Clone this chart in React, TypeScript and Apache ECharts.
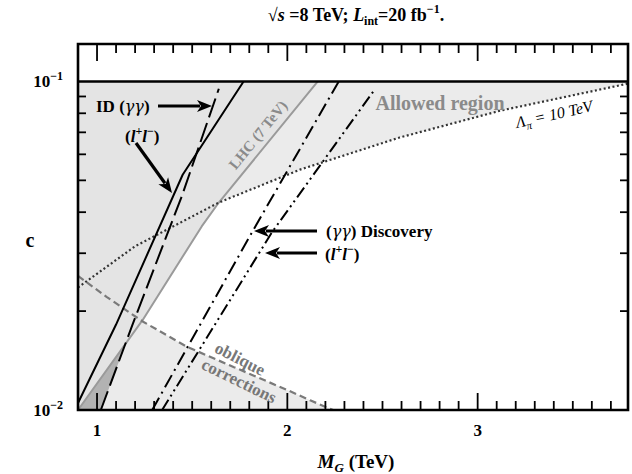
import React, { useEffect, useRef } from 'react';
import * as echarts from 'echarts';

const X_MIN = 0.9;
const X_MAX = 3.79;
const Y_MIN = 0.01;
const Y_MAX = 0.13;
const C_CUT = 0.1;

const xLabelTicks = [1, 2, 3];
const xMinorTicks = [1.1, 1.2, 1.3, 1.4, 1.5, 1.6, 1.7, 1.8, 1.9, 2.1, 2.2, 2.3, 2.4, 2.5, 2.6, 2.7, 2.8, 2.9, 3.1, 3.2, 3.3, 3.4, 3.5, 3.6, 3.7];
const yLabelTicks = [0.01, 0.1];
const yMinorTicks = [0.02, 0.03, 0.04, 0.05, 0.06, 0.07, 0.08, 0.09];

// curves: [M_G (TeV), c]
const lhc7 = [[0.90, 0.0100], [1.24, 0.0188], [1.55, 0.0362], [1.64, 0.0428], [2.16, 0.100]];
const idLL = [[0.90, 0.0105], [1.10, 0.0182], [1.45, 0.0520], [1.77, 0.100]];
const idGG = [[1.02, 0.0100], [1.185, 0.0181], [1.447, 0.0450], [1.64, 0.0950]];
const discGG = [[1.29, 0.0100], [1.815, 0.0348], [2.27, 0.100]];
const discLL = [[1.342, 0.0100], [1.92, 0.0348], [2.462, 0.0950]];
const lambda10 = [[0.90, 0.0236], [1.20, 0.0315], [1.64, 0.0428], [2.07, 0.0540], [2.59, 0.0675], [3.12, 0.0815], [3.79, 0.0985]];
const oblique = [[0.90, 0.0256], [1.05, 0.0221], [1.24, 0.0186], [1.47, 0.0156], [1.72, 0.0135], [2.00, 0.0115], [2.12, 0.0107], [2.24, 0.0100]];
const cutLine = [[X_MIN, C_CUT], [X_MAX, C_CUT]];
const darkWedge = [[0.90, 0.0100], [1.15, 0.0159], [1.02, 0.0100]];

const SERIF = '"Liberation Serif", "DejaVu Serif", serif';
const GREEK = '"DejaVu Serif", "Liberation Serif", serif';

const baseRegion = [[X_MIN, Y_MIN], [X_MAX, Y_MIN], [X_MAX, C_CUT], [X_MIN, C_CUT]];
const lhcRegion = [...lhc7, [X_MIN, C_CUT]];
const whiteRegion = [
  ...lhc7.filter((p) => p[0] >= 1.24 && p[0] <= 1.64),
  ...lambda10.filter((p) => p[0] > 1.64),
  [X_MAX, Y_MIN],
  ...oblique.filter((p) => p[0] >= 1.24).reverse(),
];

function polySeries(pts: number[][], fill: string, z: number) {
  return {
    type: 'custom',
    coordinateSystem: 'cartesian2d',
    silent: true,
    z,
    data: [[pts[0][0], pts[0][1]]],
    renderItem: (_p: any, api: any) => ({
      type: 'polygon',
      shape: { points: pts.map((p) => api.coord(p)) },
      style: { fill },
    }),
  };
}

function lineSeries(data: number[][], color: string, width: number, type: any, z = 3) {
  return {
    type: 'line',
    data,
    showSymbol: false,
    symbol: 'none',
    silent: true,
    z,
    lineStyle: { color, width, type, cap: 'butt' },
  };
}

function txt(x: number, y: number, text: string, size: number, opts: any = {}) {
  const color = opts.color || '#000';
  const weight = opts.weight || 'bold';
  const style = opts.style || 'normal';
  const small = Math.round(size * 0.68);
  return {
    type: 'text',
    x,
    y,
    rotation: opts.rotation || 0,
    z: 50,
    style: {
      text,
      fill: color,
      fontSize: size,
      fontFamily: SERIF,
      fontWeight: weight,
      fontStyle: style,
      align: opts.align || 'left',
      verticalAlign: 'middle',
      rich: {
        n: { fontSize: size, fontFamily: SERIF, fontWeight: weight, fontStyle: style, fill: color, lineHeight: size + 6 },
        i: { fontSize: size, fontFamily: SERIF, fontWeight: weight, fontStyle: 'italic', fill: color, lineHeight: size + 6 },
        g: { fontSize: size - 1, fontFamily: GREEK, fontWeight: 'normal', fontStyle: 'italic', fill: color, lineHeight: size + 6 },
        sup: { fontSize: small, fontFamily: SERIF, fontWeight: weight, fontStyle: style, fill: color, verticalAlign: 'top' },
        sub: { fontSize: small, fontFamily: SERIF, fontWeight: weight, fontStyle: style, fill: color, verticalAlign: 'bottom' },
        isub: { fontSize: small, fontFamily: SERIF, fontWeight: weight, fontStyle: 'italic', fill: color, verticalAlign: 'bottom' },
      },
    },
  };
}

function arrow(x1: number, y1: number, x2: number, y2: number) {
  const dx = x2 - x1;
  const dy = y2 - y1;
  const len = Math.sqrt(dx * dx + dy * dy);
  const ux = dx / len;
  const uy = dy / len;
  const hl = 15;
  const hw = 6;
  const bx = x2 - ux * hl;
  const by = y2 - uy * hl;
  return [
    { type: 'line', z: 50, shape: { x1, y1, x2: bx + ux * 3, y2: by + uy * 3 }, style: { stroke: '#000', lineWidth: 3.2 } },
    {
      type: 'polygon',
      z: 50,
      shape: { points: [[x2, y2], [bx - uy * hw, by + ux * hw], [bx + ux * 4, by + uy * 4], [bx + uy * hw, by - ux * hw]] },
      style: { fill: '#000' },
    },
  ];
}

export default function App() {
  const ref = useRef<HTMLDivElement>(null);
  useEffect(() => {
    if (!ref.current) return;
    const chart = echarts.init(ref.current, undefined, { renderer: 'svg' });
    const deg = Math.PI / 180;
    const option: any = {
      animation: false,
      backgroundColor: '#fff',
      grid: { left: 78, right: 4, top: 44, bottom: 64 },
      xAxis: {
        type: 'value',
        min: X_MIN,
        max: X_MAX,
        axisLine: { show: false },
        axisTick: { show: false },
        splitLine: { show: false },
        axisLabel: {
          customValues: xLabelTicks,
          formatter: (v: number) => String(Math.round(v)),
          fontFamily: SERIF,
          fontWeight: 'bold',
          fontSize: 17,
          color: '#000',
          margin: 12,
        },
      },
      yAxis: {
        type: 'log',
        logBase: 10,
        min: Y_MIN,
        max: Y_MAX,
        axisLine: { show: false },
        axisTick: { show: false },
        splitLine: { show: false },
        axisLabel: {
          customValues: yLabelTicks,
          formatter: (v: number) => '{n|10}{s|−' + Math.round(-Math.log10(v)) + '}',
          margin: 15,
          rich: {
            n: { fontFamily: SERIF, fontWeight: 'bold', fontSize: 17, color: '#000', lineHeight: 22 },
            s: { fontFamily: SERIF, fontWeight: 'bold', fontSize: 12, color: '#000', verticalAlign: 'top' },
          },
        },
      },
      series: [
        polySeries(baseRegion, '#ebebeb', 1),
        polySeries(lhcRegion, '#e4e4e4', 1),
        polySeries(whiteRegion, '#ffffff', 1),
        polySeries(darkWedge, '#b2b2b2', 1),
        lineSeries(lhc7, '#9a9a9a', 2),
        lineSeries(oblique, '#7a7a7a', 2.2, [7, 4]),
        lineSeries(lambda10, '#333', 2.2, [2, 2.5]),
        lineSeries(idLL, '#000', 2),
        lineSeries(idGG, '#000', 2, [20, 6]),
        lineSeries(discGG, '#000', 2, [14, 5, 2, 5]),
        lineSeries(discLL, '#000', 2, [12, 4, 2, 4, 2, 4]),
        lineSeries(cutLine, '#000', 2.4),
        {
          type: 'custom',
          coordinateSystem: 'cartesian2d',
          silent: true,
          z: 20,
          data: [[X_MIN, Y_MIN]],
          renderItem: (_p: any, api: any) => {
            const ch: any[] = [];
            const ln = (a: number[], b: number[]) =>
              ch.push({ type: 'line', shape: { x1: a[0], y1: a[1], x2: b[0], y2: b[1] }, style: { stroke: '#000', lineWidth: 1.8 } });
            xMinorTicks.forEach((x) => {
              const b = api.coord([x, Y_MIN]);
              const t = api.coord([x, Y_MAX]);
              ln(b, [b[0], b[1] - 9]);
              ln(t, [t[0], t[1] + 9]);
            });
            xLabelTicks.forEach((x) => {
              const b = api.coord([x, Y_MIN]);
              const t = api.coord([x, Y_MAX]);
              ln(b, [b[0], b[1] - 17]);
              ln(t, [t[0], t[1] + 17]);
            });
            yMinorTicks.forEach((y) => {
              const l = api.coord([X_MIN, y]);
              const r = api.coord([X_MAX, y]);
              ln(l, [l[0] + 8, l[1]]);
              ln(r, [r[0] - 8, r[1]]);
            });
            const tl = api.coord([X_MIN, Y_MAX]);
            const br = api.coord([X_MAX, Y_MIN]);
            ch.push({
              type: 'rect',
              shape: { x: tl[0], y: tl[1], width: br[0] - tl[0], height: br[1] - tl[1] },
              style: { fill: 'none', stroke: '#000', lineWidth: 2.6 },
            });
            return { type: 'group', children: ch };
          },
        },
      ],
      graphic: [
        txt(356, 15, '{n|√}{i|s}{n| =8 TeV; }{i|L}{sub|int}{n|=20 fb}{sup|−1}{n|.}', 18, { align: 'center' }),
        txt(356, 461, '{i|M}{isub|G}{n| (TeV)}', 19, { align: 'center' }),
        txt(30, 240, 'c', 20, { align: 'center' }),
        txt(96, 106, '{n|ID (}{g|γγ}{n|)}', 17),
        txt(125, 136, '{n|(}{i|l}{sup|+}{i|l}{sup|−}{n|)}', 17),
        txt(326, 231, '{n|(}{g|γγ}{n|) Discovery}', 17),
        txt(325, 254, '{n|(}{i|l}{sup|+}{i|l}{sup|−}{n|)}', 17),
        txt(258, 135, 'LHC (7 TeV)', 15, { align: 'center', color: '#8a8a8a', rotation: 51 * deg }),
        txt(440, 103, 'Allowed region', 20, { align: 'center', color: '#8a8a8a' }),
        txt(554, 114, '{n|Λ}{sub|π}{n| = 10 TeV}', 16, { align: 'center', weight: 'normal', style: 'italic', rotation: 12.6 * deg }),
        txt(240, 359, 'oblique', 17, { align: 'center', color: '#777', rotation: -27 * deg }),
        txt(239, 381, 'corrections', 17, { align: 'center', color: '#777', rotation: -26 * deg }),
        ...arrow(158, 106, 212, 106),
        ...arrow(136, 143, 172, 193),
        ...arrow(317, 231, 254, 231),
        ...arrow(317, 253, 265, 253),
      ],
    };
    chart.setOption(option);
    return () => chart.dispose();
  }, []);
  return <div ref={ref} style={{ position: 'fixed', left: 0, top: 0, width: 632, height: 474, background: '#fff' }} />;
}
